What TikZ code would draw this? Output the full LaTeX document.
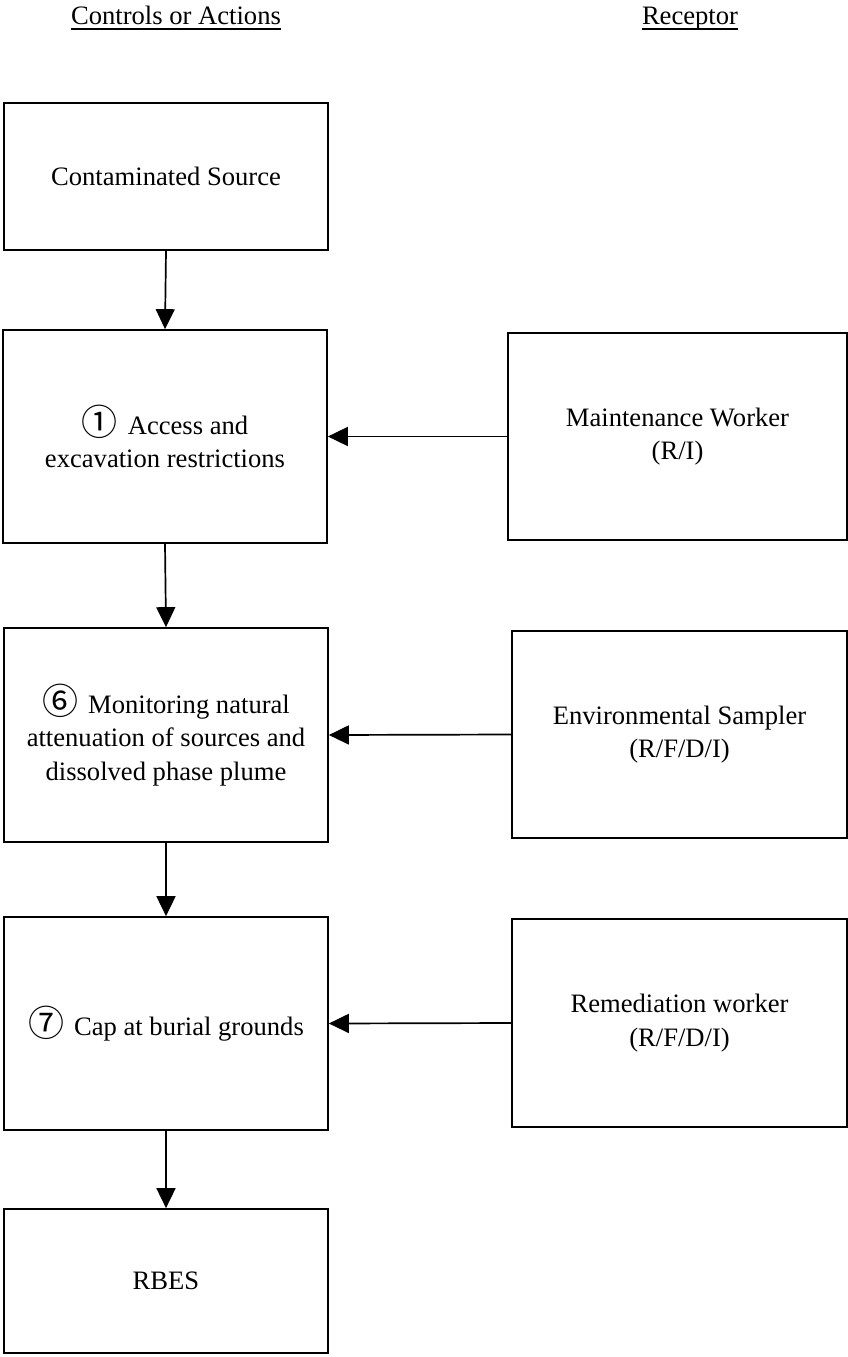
\documentclass[tikz,border=0pt]{standalone}
\usepackage{fontspec}
\setmainfont{Liberation Serif}
\newfontfamily\circfont{Noto Sans CJK JP}
\usetikzlibrary{arrows.meta}
% circled step number followed by a wide gap
\newcommand\stepnum[1]{\raisebox{-1.5pt}{\circfont\fontsize{36}{33}\selectfont #1}\hspace{10pt}}
\begin{document}
\begin{tikzpicture}[x=1pt,y=-1pt,
  every node/.style={font=\fontsize{26.6}{33.5}\selectfont},
  box/.style={draw, line width=1.7pt, align=center, inner sep=2pt},
  hdr/.style={inner sep=0pt, anchor=base},
  conn/.style={line width=1.7pt, -{Triangle[length=20pt,width=19pt]}},
  uline/.style={line width=1.3pt}]
\useasboundingbox (0,0) rectangle (848,1357);

% column headings
\node[hdr] (hc) at (176,24) {Controls or Actions};
\node[hdr] (hr) at (690,24) {Receptor};
\draw[uline] ([yshift=-5pt]hc.base west) -- ([yshift=-5pt]hc.base east);
\draw[uline] ([yshift=-5pt]hr.base west) -- ([yshift=-5pt]hr.base east);

% controls / actions column
\node[box, minimum width=324pt, minimum height=147pt] (src) at (166,176.5) {Contaminated Source};
\node[box, minimum width=324pt, minimum height=213pt] (acc) at (165,436.5)
  {\stepnum{①}Access and\\excavation restrictions};
\node[box, minimum width=324pt, minimum height=214pt] (mon) at (166,735)
  {\stepnum{⑥}Monitoring natural\\attenuation of sources and\\dissolved phase plume};
\node[box, minimum width=324pt, minimum height=213pt] (cap) at (166,1023.5)
  {\stepnum{⑦}Cap at burial grounds};
\node[box, minimum width=324pt, minimum height=144pt] (rbes) at (166,1281) {RBES};

% receptor column
\node[box, minimum width=339pt, minimum height=207pt] (mw) at (677.5,436.5)
  {Maintenance Worker\\(R/I)};
\node[box, minimum width=335pt, minimum height=207pt] (es) at (679.5,734.5)
  {Environmental Sampler\\(R/F/D/I)};
\node[box, minimum width=335pt, minimum height=208pt] (rw) at (679.5,1023)
  {Remediation worker\\(R/F/D/I)};

% flow down the controls column
\draw[conn] (src.south) -- (acc.north);
\draw[conn] (acc.south) -- (mon.north);
\draw[conn] (mon.south) -- (cap.north);
\draw[conn] (cap.south) -- (rbes.north);

% receptors to their controls
\draw[conn] (mw.west) -- (acc.east);
\draw[conn] (es.west) -- (mon.east);
\draw[conn] (rw.west) -- (cap.east);
\end{tikzpicture}
\end{document}
